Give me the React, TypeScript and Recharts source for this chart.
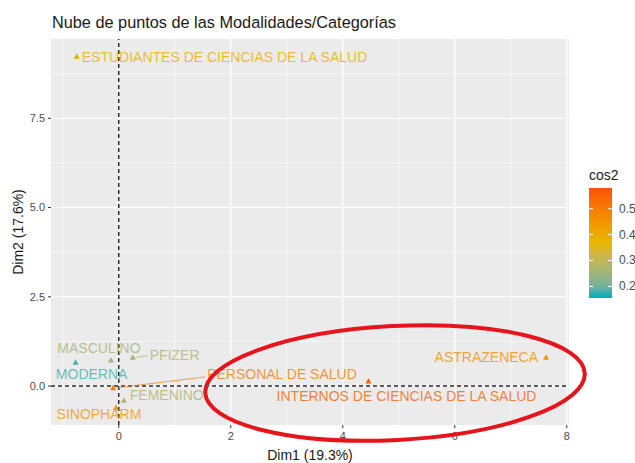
import React from "react";
import {
  ScatterChart,
  Scatter,
  XAxis,
  YAxis,
  CartesianGrid,
  ReferenceLine,
} from "recharts";

const CATEGORIES = [
  "ESTUDIANTES DE CIENCIAS DE LA SALUD",
  "MASCULINO",
  "PFIZER",
  "MODERNA",
  "PERSONAL DE SALUD",
  "FEMENINO",
  "SINOPHARM",
  "INTERNOS DE CIENCIAS DE LA SALUD",
  "ASTRAZENECA",
];
const DIM1 = [-0.75, -0.14, 0.25, -0.77, -0.1, 0.09, -0.05, 4.46, 7.63];
const DIM2 = [9.24, 0.73, 0.81, 0.67, -0.05, -0.4, -0.6, 0.14, 0.81];
const COS2 = [0.39, 0.26, 0.27, 0.17, 0.5, 0.27, 0.44, 0.55, 0.46];

const X_TICKS = [0, 2, 4, 6, 8];
const X_MINOR = [-1, 1, 3, 5, 7];
const Y_TICKS = [0, 2.5, 5, 7.5];
const Y_MINOR = [1.25, 3.75, 6.25, 8.75];
const LEGEND_TICKS = [0.5, 0.4, 0.3, 0.2];

const COS2_MIN = 0.155;
const COS2_MAX = 0.58;
const GRAD = ["#00AFBB", "#E7B800", "#FC4E07"];

// label placement (px, relative to the point) — mimics ggrepel output
const LABEL_POS: Record<string, { dx: number; dy: number; anchor: string; leader?: [number, number] }> = {
  "ESTUDIANTES DE CIENCIAS DE LA SALUD": { dx: 5, dy: 1, anchor: "start" },
  MASCULINO: { dx: -12, dy: -12, anchor: "middle" },
  PFIZER: { dx: 17, dy: -2, anchor: "start", leader: [15, -1] },
  MODERNA: { dx: 16, dy: 12, anchor: "middle" },
  "PERSONAL DE SALUD": { dx: 94, dy: -14, anchor: "start", leader: [92, -11] },
  FEMENINO: { dx: 6, dy: -5, anchor: "start" },
  SINOPHARM: { dx: -17, dy: 6, anchor: "middle" },
  "INTERNOS DE CIENCIAS DE LA SALUD": { dx: 38, dy: 15, anchor: "middle" },
  ASTRAZENECA: { dx: -8, dy: 0, anchor: "end" },
};

const FONT = "'Liberation Sans', Arial, Helvetica, sans-serif";

/* ---------- colour gradient in Lab space (like ggplot) ---------- */
function hexToRgb(h: string) {
  const n = parseInt(h.slice(1), 16);
  return [(n >> 16) & 255, (n >> 8) & 255, n & 255];
}
function toLin(c: number) {
  c /= 255;
  return c <= 0.04045 ? c / 12.92 : Math.pow((c + 0.055) / 1.055, 2.4);
}
function fromLin(c: number) {
  const v = c <= 0.0031308 ? 12.92 * c : 1.055 * Math.pow(c, 1 / 2.4) - 0.055;
  return Math.max(0, Math.min(255, Math.round(v * 255)));
}
const WX = 0.95047, WY = 1, WZ = 1.08883;
function rgbToLab(hex: string) {
  const [r, g, b] = hexToRgb(hex).map(toLin);
  const x = (r * 0.4124 + g * 0.3576 + b * 0.1805) / WX;
  const y = (r * 0.2126 + g * 0.7152 + b * 0.0722) / WY;
  const z = (r * 0.0193 + g * 0.1192 + b * 0.9505) / WZ;
  const f = (t: number) => (t > 0.008856 ? Math.cbrt(t) : 7.787 * t + 16 / 116);
  const fx = f(x), fy = f(y), fz = f(z);
  return [116 * fy - 16, 500 * (fx - fy), 200 * (fy - fz)];
}
function labToHex([L, a, bb]: number[]) {
  const fy = (L + 16) / 116;
  const fx = fy + a / 500;
  const fz = fy - bb / 200;
  const inv = (t: number) => (t ** 3 > 0.008856 ? t ** 3 : (t - 16 / 116) / 7.787);
  const x = inv(fx) * WX, y = inv(fy) * WY, z = inv(fz) * WZ;
  const r = x * 3.2406 + y * -1.5372 + z * -0.4986;
  const g = x * -0.9689 + y * 1.8758 + z * 0.0415;
  const b = x * 0.0557 + y * -0.204 + z * 1.057;
  return "#" + [r, g, b].map((c) => fromLin(c).toString(16).padStart(2, "0")).join("");
}
const GRAD_LAB = GRAD.map(rgbToLab);
function cosColor(v: number) {
  let t = (v - COS2_MIN) / (COS2_MAX - COS2_MIN);
  t = Math.max(0, Math.min(1, t)) * (GRAD_LAB.length - 1);
  const i = Math.min(GRAD_LAB.length - 2, Math.floor(t));
  const f = t - i;
  const a = GRAD_LAB[i], b = GRAD_LAB[i + 1];
  return labToHex([0, 1, 2].map((k) => a[k] + (b[k] - a[k]) * f));
}

const rows = CATEGORIES.map((name, i) => ({
  name,
  x: DIM1[i],
  y: DIM2[i],
  cos2: COS2[i],
}));

function PointShape(props: any) {
  const { cx, cy, payload } = props;
  if (cx == null || cy == null) return null;
  const col = cosColor(payload.cos2);
  const lp = LABEL_POS[payload.name] ?? { dx: 6, dy: 0, anchor: "start" };
  return (
    <g>
      {lp.leader && (
        <line
          x1={cx + 3}
          y1={cy}
          x2={cx + lp.leader[0]}
          y2={cy + lp.leader[1]}
          stroke={col}
          strokeWidth={0.7}
        />
      )}
      <polygon
        points={`${cx},${cy - 3} ${cx - 3},${cy + 2.5} ${cx + 3},${cy + 2.5}`}
        fill={col}
      />
      <text
        x={cx + lp.dx}
        y={cy + lp.dy}
        textAnchor={lp.anchor as any}
        dominantBaseline="central"
        fontFamily={FONT}
        fontSize={14}
        fill={col}
        fillOpacity={0.8}
      >
        {payload.name}
      </text>
    </g>
  );
}

const AXIS_TICK = { fill: "#4d4d4d", fontSize: 11, fontFamily: FONT };

export default function App() {
  const barTop = 188;
  const barH = 110;
  const legY = (v: number) => barTop + barH - ((v - COS2_MIN) / (COS2_MAX - COS2_MIN)) * barH;
  const stops = Array.from({ length: 11 }, (_, k) => k / 10);

  return (
    <div style={{ position: "absolute", left: 0, top: 0, width: 635, height: 463, background: "#fff" }}>
      <ScatterChart width={635} height={463} margin={{ top: 39, right: 66, bottom: 13, left: 0 }}>
        <CartesianGrid
          fill="#ebebeb"
          stroke="#ffffff"
          strokeWidth={0.6}
          horizontalValues={Y_MINOR}
          verticalValues={X_MINOR}
        />
        {X_TICKS.map((v) => (
          <ReferenceLine key={`gx${v}`} x={v} stroke="#ffffff" strokeWidth={1.2} />
        ))}
        {Y_TICKS.map((v) => (
          <ReferenceLine key={`gy${v}`} y={v} stroke="#ffffff" strokeWidth={1.2} />
        ))}
        <ReferenceLine x={0} stroke="#2b2b2b" strokeWidth={1.5} strokeDasharray="4 3" />
        <ReferenceLine y={0} stroke="#2b2b2b" strokeWidth={1.5} strokeDasharray="4 3" />
        <XAxis
          type="number"
          dataKey="x"
          domain={[-1.21, 8.04]}
          allowDataOverflow
          ticks={X_TICKS}
          tick={AXIS_TICK}
          tickSize={3}
          tickMargin={4}
          axisLine={false}
          tickLine={{ stroke: "#333" }}
          height={25}
        />
        <YAxis
          type="number"
          dataKey="y"
          domain={[-1.09, 9.72]}
          allowDataOverflow
          ticks={Y_TICKS}
          tickFormatter={(v: number) => v.toFixed(1)}
          tick={AXIS_TICK}
          tickSize={3}
          tickMargin={3}
          axisLine={false}
          tickLine={{ stroke: "#333" }}
          width={51}
        />
        <Scatter data={rows} shape={PointShape} isAnimationActive={false} />
      </ScatterChart>

      <svg
        width={635}
        height={463}
        style={{ position: "absolute", left: 0, top: 0, pointerEvents: "none" }}
      >
        <text x={52} y={28} fontFamily={FONT} fontSize={16.3} fill="#1a1a1a">
          Nube de puntos de las Modalidades/Categorías
        </text>
        <text x={310} y={460} textAnchor="middle" fontFamily={FONT} fontSize={14} fill="#1a1a1a">
          Dim1 (19.3%)
        </text>
        <text
          transform="translate(23,232) rotate(-90)"
          textAnchor="middle"
          fontFamily={FONT}
          fontSize={14}
          fill="#1a1a1a"
        >
          Dim2 (17.6%)
        </text>

        {/* colourbar legend */}
        <defs>
          <linearGradient id="cosbar" x1="0" y1="1" x2="0" y2="0">
            {stops.map((s) => (
              <stop
                key={s}
                offset={s}
                stopColor={cosColor(COS2_MIN + s * (COS2_MAX - COS2_MIN))}
              />
            ))}
          </linearGradient>
        </defs>
        <text x={589} y={180} fontFamily={FONT} fontSize={14} fill="#1a1a1a">
          cos2
        </text>
        <rect x={589} y={barTop} width={23} height={barH} fill="url(#cosbar)" />
        {LEGEND_TICKS.map((v) => (
          <g key={v}>
            <line x1={589} x2={593} y1={legY(v)} y2={legY(v)} stroke="#fff" strokeWidth={1} />
            <line x1={608} x2={612} y1={legY(v)} y2={legY(v)} stroke="#fff" strokeWidth={1} />
            <text
              x={619}
              y={legY(v)}
              dominantBaseline="central"
              fontFamily={FONT}
              fontSize={12}
              fill="#4d4d4d"
            >
              {v.toFixed(1)}
            </text>
          </g>
        ))}

        {/* red hand-drawn highlight */}
        <ellipse
          cx={395}
          cy={383}
          rx={190}
          ry={57}
          transform="rotate(-3 395 383)"
          fill="none"
          stroke="#e8141c"
          strokeWidth={4}
        />
      </svg>
    </div>
  );
}
